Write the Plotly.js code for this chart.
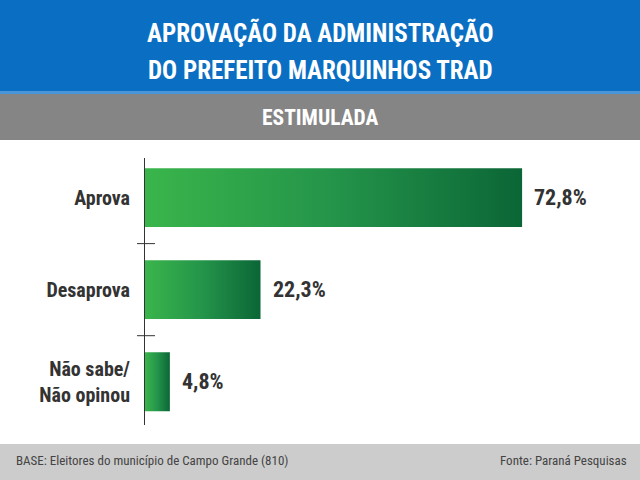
<!DOCTYPE html>
<html>
<head>
<meta charset="utf-8">
<script src="https://cdn.plot.ly/plotly-3.0.1.min.js"></script>
<style>
  html, body { margin: 0; padding: 0; background: #fff; }
  #chart { width: 640px; height: 480px; }
  /* the original uses a narrow face; Roboto has a condensed width.
     global so plotly's hidden text tester measures the same width */
  svg text { font-stretch: condensed !important; }
</style>
</head>
<body>
<div id="chart"></div>
<script>
// data
const categories = ['Aprova', 'Desaprova', 'Não sabe/<br>Não opinou'];
const values = [72.8, 22.3, 4.8];
const valueLabels = ['72,8%', '22,3%', '4,8%'];

const FONT = 'Roboto, sans-serif';
const DARK = '#333333';

// plot box in pixels: left 145, right 635, top 158, bottom 425
const L = 145, R = 5, T = 158, B = 55, W = 640, H = 480;
const pw = W - L - R, ph = H - T - B;
const px = x => (x - L) / pw;        // pixel -> paper x
const py = y => (H - B - y) / ph;    // pixel -> paper y

const barHalf = 0.32;

// one filled trace per bar so each gets its own left-to-right gradient
const traces = values.map((v, i) => ({
    x: [0, v, v, 0, 0],
    y: [i - barHalf, i - barHalf, i + barHalf, i + barHalf, i - barHalf],
    type: 'scatter',
    mode: 'lines',
    fill: 'toself',
    line: { width: 0 },
    fillgradient: {
        type: 'horizontal',
        colorscale: [[0, '#3ab54b'], [0.5, '#24944a'], [1, '#0b6636']]
    },
    hoverinfo: 'skip',
    showlegend: false
}));

// tick marks at category boundaries, crossing the axis line
const tickShapes = values.slice(1).map((v, i) => ({
    type: 'line', xref: 'paper', yref: 'y',
    x0: px(137), x1: px(155), y0: i + 0.5, y1: i + 0.5,
    line: { color: DARK, width: 1 }
}));

const bands = [
    { type: 'rect', xref: 'paper', yref: 'paper', x0: px(0), x1: px(640), y0: py(0), y1: py(91), fillcolor: '#0a6fc2', line: { width: 0 }, layer: 'below' },
    { type: 'rect', xref: 'paper', yref: 'paper', x0: px(0), x1: px(640), y0: py(91), y1: py(94), fillcolor: '#4a95d8', line: { width: 0 }, layer: 'below' },
    { type: 'rect', xref: 'paper', yref: 'paper', x0: px(0), x1: px(640), y0: py(94), y1: py(140), fillcolor: '#858585', line: { width: 0 }, layer: 'below' },
    { type: 'rect', xref: 'paper', yref: 'paper', x0: px(0), x1: px(640), y0: py(444), y1: py(480), fillcolor: '#cccccc', line: { width: 0 }, layer: 'below' }
];

const textNotes = [
    { text: 'APROVAÇÃO DA ADMINISTRAÇÃO', x: px(320), y: py(33), font: { family: FONT, size: 25, color: '#ffffff', weight: 'bold' } },
    { text: 'DO PREFEITO MARQUINHOS TRAD', x: px(320), y: py(70), font: { family: FONT, size: 25, color: '#ffffff', weight: 'bold' } },
    { text: 'ESTIMULADA', x: px(320), y: py(117), font: { family: FONT, size: 21.5, color: '#ffffff', weight: 'bold' } },
    { text: 'BASE: Eleitores do município de Campo Grande (810)', x: px(14), y: py(460), xanchor: 'left', font: { family: FONT, size: 13, color: '#444444' } },
    { text: 'Fonte: Paraná Pesquisas', x: px(629), y: py(460), xanchor: 'right', font: { family: FONT, size: 13, color: '#444444' } }
].map(a => Object.assign({ xref: 'paper', yref: 'paper', showarrow: false, xanchor: 'center', yanchor: 'middle' }, a));

// value labels to the right of each bar
const valueNotes = values.map((v, i) => ({
    x: v, y: i, xref: 'x', yref: 'y',
    text: valueLabels[i], showarrow: false,
    xanchor: 'left', yanchor: 'middle', xshift: 10,
    font: { family: FONT, size: 22, color: DARK, weight: 'bold' }
}));

const layout = {
    width: W, height: H,
    margin: { l: L, r: R, t: T, b: B, pad: 0 },
    paper_bgcolor: '#ffffff',
    plot_bgcolor: 'rgba(0,0,0,0)',
    showlegend: false,
    xaxis: {
        range: [0, pw / 5.18],
        visible: false,
        fixedrange: true
    },
    yaxis: {
        range: [2.47, -0.43],
        tickvals: [0, 1, 2],
        ticktext: categories,
        ticks: '',
        showline: true,
        linecolor: DARK,
        linewidth: 1,
        showgrid: false,
        zeroline: false,
        ticklabelstandoff: 10,
        tickfont: { family: FONT, size: 20, color: DARK, weight: 'bold' },
        fixedrange: true
    },
    shapes: bands.concat(tickShapes),
    annotations: textNotes.concat(valueNotes)
};

Plotly.newPlot('chart', traces, layout, { displayModeBar: false, staticPlot: true });
</script>
</body>
</html>
